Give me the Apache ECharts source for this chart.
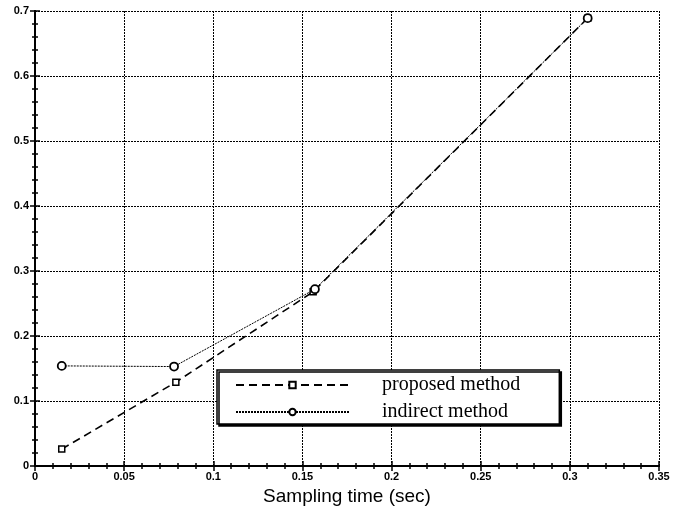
<!DOCTYPE html>
<html><head><meta charset="utf-8">
<script src="https://cdn.jsdelivr.net/npm/echarts@6/dist/echarts.min.js"></script>
<style>html,body{margin:0;padding:0;background:#fff}#c{width:678px;height:516px}</style>
</head><body><div id="c"></div>
<script>
const seriesNames = ['proposed method', 'indirect method'];
const proposedX = [0.015, 0.079, 0.156, 0.31];
const proposedY = [0.026, 0.129, 0.268, 0.689];
const indirectX = [0.015, 0.078, 0.157, 0.31];
const indirectY = [0.154, 0.153, 0.272, 0.689];
const xTitle = 'Sampling time (sec)';

const chart = echarts.init(document.getElementById('c'));
const pair = (xs, ys) => xs.map((x, i) => [x, ys[i]]);
const lab = {fontFamily: 'Liberation Sans', fontWeight: 'bold', fontSize: 11, color: '#000'};
const axLine = {show: true, lineStyle: {color: '#000', width: 2}};
const tick = {show: true, inside: true, length: 5, lineStyle: {color: '#000', width: 1.5}};
const minor = {show: true, splitNumber: 5, length: 3, lineStyle: {color: '#000', width: 1.5}};
const split = {show: true, lineStyle: {color: '#000', type: [2, 1], width: 1}};
chart.setOption({
  animation: false,
  backgroundColor: '#fff',
  grid: {left: 35, right: 19, top: 11, bottom: 50},
  xAxis: [{
    type: 'value', min: 0, max: 0.35, interval: 0.05, position: 'bottom',
    axisLine: axLine, axisTick: tick, minorTick: minor,
    splitLine: split,
    axisLabel: Object.assign({margin: 5, formatter: v => String(+v.toFixed(2))}, lab),
    name: xTitle, nameLocation: 'middle', nameGap: 18,
    nameTextStyle: {fontFamily: 'Liberation Sans', fontSize: 19, color: '#000', verticalAlign: 'top'}
  }, {
    type: 'value', min: 0, max: 0.35, interval: 0.05, position: 'top',
    axisLine: axLine, axisTick: tick, minorTick: minor,
    splitLine: {show: false}, axisLabel: {show: false}
  }],
  yAxis: [{
    type: 'value', min: 0, max: 0.7, interval: 0.1, position: 'left',
    axisLine: axLine, axisTick: tick, minorTick: minor,
    splitLine: split,
    axisLabel: Object.assign({margin: 6, formatter: v => String(+v.toFixed(1))}, lab)
  }, {
    type: 'value', min: 0, max: 0.7, interval: 0.1, position: 'right',
    axisLine: axLine, axisTick: tick, minorTick: minor,
    splitLine: {show: false}, axisLabel: {show: false}
  }],
  legend: {
    left: 217, top: 370, orient: 'vertical',
    padding: [5, 39, 2, 18],
    itemWidth: 113, itemHeight: 8, itemGap: 7,
    backgroundColor: '#fff', borderColor: '#000', borderWidth: 1.5,
    shadowColor: '#000', shadowOffsetX: 2, shadowOffsetY: 2, shadowBlur: 0,
    textStyle: {fontFamily: 'Liberation Serif', fontSize: 20, color: '#000', padding: [0, 0, 0, 28]},
    data: seriesNames
  },
  series: [{
    name: seriesNames[0], type: 'line', data: pair(proposedX, proposedY),
    symbol: 'rect', symbolSize: 6, showAllSymbol: true,
    lineStyle: {color: '#000', width: 1.6, type: [8, 5]},
    itemStyle: {color: '#fff', borderColor: '#000', borderWidth: 1.5}
  }, {
    name: seriesNames[1], type: 'line', data: pair(indirectX, indirectY),
    symbol: 'circle', symbolSize: 8, showAllSymbol: true,
    lineStyle: {color: '#000', width: 1, type: [2, 1]},
    itemStyle: {color: '#fff', borderColor: '#000', borderWidth: 1.8}
  }]
});
</script></body></html>
